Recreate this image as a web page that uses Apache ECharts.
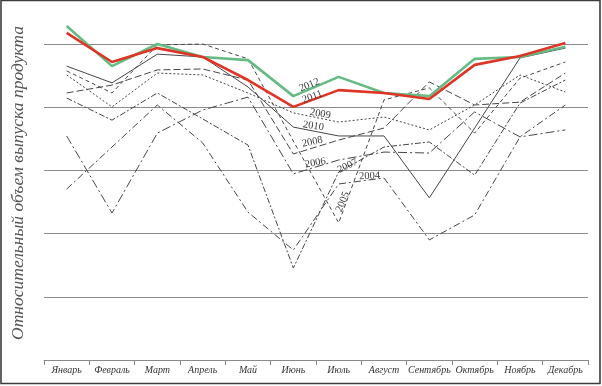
<!DOCTYPE html>
<html><head><meta charset="utf-8">
<script src="https://cdn.jsdelivr.net/npm/echarts@6/dist/echarts.min.js"></script>
<style>html,body{margin:0;padding:0;background:#fff}#c{width:602px;height:386px}</style>
</head><body><div id="c"></div>
<script>
const months = ['Январь','Февраль','Март','Апрель','Май','Июнь','Июль','Август','Сентябрь','Октябрь','Ноябрь','Декабрь'];
const yAxisName = 'Относительный объем выпуска продукта';
const v2004 = [0.541,0.674,0.807,0.687,0.468,0.348,0.557,0.576,0.380,0.459,0.706,0.807];
const v2005 = [0.915,0.845,0.997,1.000,0.953,0.693,0.434,0.823,0.861,0.718,0.892,0.943];
const v2006 = [0.709,0.465,0.718,0.791,0.832,0.589,0.633,0.658,0.655,0.785,0.706,0.728];
const v2007 = [0.829,0.759,0.845,0.763,0.680,0.291,0.595,0.674,0.690,0.585,0.813,0.886];
const v2008 = [0.845,0.870,0.918,0.921,0.886,0.652,0.696,0.734,0.880,0.807,0.816,0.908];
const v2009 = [0.902,0.801,0.908,0.902,0.845,0.782,0.753,0.769,0.728,0.807,0.902,0.848];
const v2010 = [0.930,0.877,0.968,0.959,0.864,0.737,0.709,0.709,0.513,0.734,0.956,0.987];
const v2011 = [1.035,0.943,0.987,0.959,0.886,0.801,0.854,0.845,0.826,0.934,0.962,1.003];
const v2012 = [1.057,0.930,1.000,0.959,0.949,0.835,0.896,0.845,0.835,0.953,0.959,0.991];

const gray = '#474747';
const cfg = [
  {name:'2004', data:v2004, color:gray, width:1, type:[7,3,2,3], li:6, off:[31,-8], rot:3},
  {name:'2005', data:v2005, color:gray, width:1, type:[4,3], li:6, off:[4,-21], rot:68},
  {name:'2006', data:v2006, color:gray, width:1, type:[9,3,2,3], li:5, off:[22,-11], rot:10},
  {name:'2007', data:v2007, color:gray, width:1, type:[6,2,2,2], li:6, off:[9,-6], rot:25},
  {name:'2008', data:v2008, color:gray, width:1, type:[7,3], li:5, off:[19,-12], rot:12},
  {name:'2009', data:v2009, color:gray, width:1, type:[2,2], li:5, off:[27,1], rot:-10},
  {name:'2010', data:v2010, color:gray, width:1, type:'solid', li:5, off:[20,-1], rot:-8},
  {name:'2012', data:v2012, color:'#66bb84', width:2.6, type:'solid', li:5, off:[16,-11], rot:22},
  {name:'2011', data:v2011, color:'#de3526', width:2.6, type:'solid', li:5, off:[19,-10], rot:20}
];

// label offset is applied in the rotated frame: convert a screen displacement
function localOffset(off, deg){
  const t = deg * Math.PI / 180, c = Math.cos(t), s = Math.sin(t);
  return [off[0]*c - off[1]*s, off[0]*s + off[1]*c];
}

const series = cfg.map(function(s){
  return {
    name: s.name, type: 'line', symbol: 'circle', symbolSize: 0, showSymbol: true, showAllSymbol: true,
    silent: true, animation: false,
    lineStyle: {color: s.color, width: s.width, type: s.type},
    itemStyle: {color: 'rgba(0,0,0,0)', borderWidth: 0},
    label: {show: false},
    data: s.data.map(function(v, i){
      if (i !== s.li) return v;
      return {value: v, label: {show: true, formatter: s.name, position: 'inside',
        offset: localOffset(s.off, s.rot), rotate: s.rot, fontFamily: 'Liberation Serif', fontSize: 10.5,
        color: '#3a3a3a', align: 'center', verticalAlign: 'middle'}};
    })
  };
});

const chart = echarts.init(document.getElementById('c'), null, {renderer: 'canvas'});
chart.setOption({
  backgroundColor: '#fff',
  animation: false,
  grid: {left: 44, right: 14, top: 6.08, bottom: 26, containLabel: false},
  xAxis: {
    type: 'category', data: months, boundaryGap: true,
    axisLine: {show: true, lineStyle: {color: '#8a8a8a', width: 1}},
    axisTick: {show: true, inside: false, length: 5, interval: 0, lineStyle: {color: '#8a8a8a'}},
    axisLabel: {interval: 0, margin: 5, fontFamily: 'Liberation Serif', fontStyle: 'italic',
      fontSize: 10, color: '#333'},
    splitLine: {show: false}
  },
  yAxis: {
    type: 'value', min: 0, max: 1.12, interval: 0.2,
    name: yAxisName, nameLocation: 'middle', nameRotate: 90, nameGap: 17,
    nameTextStyle: {fontFamily: 'Liberation Serif', fontStyle: 'italic', fontSize: 17.5, color: '#555'},
    axisLine: {show: false}, axisTick: {show: false}, axisLabel: {show: false},
    splitLine: {show: true, showMaxLine: false, lineStyle: {color: '#8c8c8c', width: 1}}
  },
  graphic: [{type: 'rect', shape: {x: 1, y: 0.5, width: 599, height: 383},
    style: {fill: 'none', stroke: '#3c3c3c', lineWidth: 1.6}, silent: true, z: 100}],
  series: series
});
</script></body></html>
